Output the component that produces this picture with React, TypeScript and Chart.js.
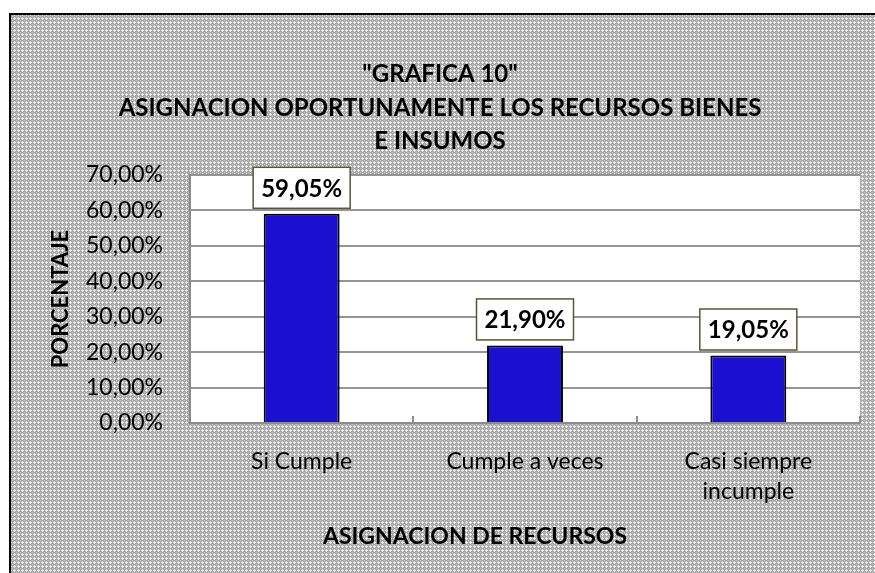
import React, { useEffect, useRef } from "react";
import { Chart, registerables } from "chart.js";

Chart.register(...registerables);

const categories: string[][] = [["Si Cumple"], ["Cumple a veces"], ["Casi siempre", "incumple"]];
const values: number[] = [59.05, 21.9, 19.05];
const yMax = 70;
const yStep = 10;
const titleLines: string[] = ['"GRAFICA 10"', "ASIGNACION OPORTUNAMENTE LOS RECURSOS BIENES", "E INSUMOS"];
const xTitle = "ASIGNACION DE RECURSOS";
const yTitle = "PORCENTAJE";

const W = 875;
const H = 573;
const FONT = "Lato";

const fmt = (v: number) => v.toFixed(2).replace(".", ",") + "%";

function makePattern(ctx: CanvasRenderingContext2D) {
  const t = document.createElement("canvas");
  t.width = 4;
  t.height = 4;
  const c = t.getContext("2d")!;
  c.fillStyle = "#a6a6a6";
  c.fillRect(0, 0, 4, 4);
  c.fillStyle = "#ececec";
  c.fillRect(2, 1, 1, 3);
  c.fillRect(1, 2, 3, 1);
  c.fillStyle = "#c8c8c8";
  c.fillRect(0, 0, 1, 1);
  return ctx.createPattern(t, "repeat");
}

const decorPlugin = {
  id: "decor",
  beforeDraw(chart: any) {
    const ctx: CanvasRenderingContext2D = chart.ctx;
    ctx.save();
    ctx.fillStyle = "#ffffff";
    ctx.fillRect(0, 0, W, H);
    const p = makePattern(ctx);
    if (p) ctx.fillStyle = p;
    ctx.fillRect(10, 14, W, H);
    ctx.strokeStyle = "#000";
    ctx.lineWidth = 2;
    ctx.beginPath();
    ctx.moveTo(10, H + 5);
    ctx.lineTo(10, 14);
    ctx.lineTo(W + 5, 14);
    ctx.stroke();
    const a = chart.chartArea;
    ctx.fillStyle = "#ffffff";
    ctx.fillRect(a.left, a.top, a.right - a.left, a.bottom - a.top);
    ctx.restore();
  },
  afterDatasetsDraw(chart: any) {
    const ctx: CanvasRenderingContext2D = chart.ctx;
    const a = chart.chartArea;
    const xs = chart.scales.x;
    ctx.save();
    // inward category ticks
    ctx.strokeStyle = "#8c8c8c";
    ctx.lineWidth = 2;
    for (let i = 0; i < categories.length; i++) {
      const px = Math.round(xs.getPixelForValue(i + 0.5));
      ctx.beginPath();
      ctx.moveTo(px, a.bottom);
      ctx.lineTo(px, a.bottom - 7);
      ctx.stroke();
    }
    // data labels
    const meta = chart.getDatasetMeta(0);
    ctx.font = `bold 24px ${FONT}`;
    ctx.textAlign = "center";
    ctx.textBaseline = "middle";
    meta.data.forEach((bar: any, i: number) => {
      const bw = 97;
      const bh = 41;
      const cy = bar.y - 26;
      ctx.fillStyle = "#ffffff";
      ctx.fillRect(bar.x - bw / 2, cy - bh / 2, bw, bh);
      ctx.strokeStyle = "#5a5438";
      ctx.lineWidth = 1.5;
      ctx.strokeRect(bar.x - bw / 2, cy - bh / 2, bw, bh);
      ctx.fillStyle = "#000";
      ctx.fillText(fmt(values[i]), bar.x, cy + 1);
    });
    // titles
    ctx.font = `bold 24px ${FONT}`;
    const titleY = [74, 108, 141];
    titleLines.forEach((t, i) => ctx.fillText(t, 440, titleY[i]));
    ctx.font = `bold 23px ${FONT}`;
    ctx.fillText(xTitle, 475, 537);
    ctx.translate(61, (a.top + a.bottom) / 2);
    ctx.rotate(-Math.PI / 2);
    ctx.font = `bold 22px ${FONT}`;
    ctx.fillText(yTitle, 0, 0);
    ctx.restore();
  },
};

export default function App() {
  const ref = useRef<HTMLCanvasElement | null>(null);
  useEffect(() => {
    if (!ref.current) return;
    const chart = new Chart(ref.current, {
      type: "bar",
      data: {
        labels: categories as any,
        datasets: [
          {
            data: values,
            backgroundColor: "#1b10cf",
            borderColor: "#000000",
            borderWidth: 2,
            barPercentage: 0.34,
            categoryPercentage: 1,
          },
        ],
      },
      options: {
        animation: false,
        responsive: false,
        devicePixelRatio: 1,
        layout: { padding: { left: 0, right: 15, top: 175, bottom: 0 } },
        plugins: { legend: { display: false }, title: { display: false }, tooltip: { enabled: false } },
        scales: {
          x: {
            grid: { display: false, drawTicks: false },
            border: { display: true, color: "#8c8c8c", width: 2 },
            ticks: { color: "#000", font: { family: FONT, size: 23, lineHeight: 1.3 }, padding: 24, maxRotation: 0, autoSkip: false },
            afterFit(s: any) {
              s.height = 150;
            },
          },
          y: {
            min: 0,
            max: yMax,
            grid: { color: "#959595", lineWidth: 2, drawTicks: false },
            border: { display: true, color: "#8c8c8c", width: 2 },
            ticks: { stepSize: yStep, color: "#000", font: { family: FONT, size: 23 }, padding: 27, callback: (v: any) => fmt(Number(v)) },
            afterFit(s: any) {
              s.width = 190;
            },
          },
        },
      },
      plugins: [decorPlugin],
    });
    return () => chart.destroy();
  }, []);
  return (
    <div style={{ position: "absolute", left: 0, top: 0, width: W, height: H }}>
      <canvas ref={ref} width={W} height={H} style={{ display: "block", width: W, height: H }} />
    </div>
  );
}
